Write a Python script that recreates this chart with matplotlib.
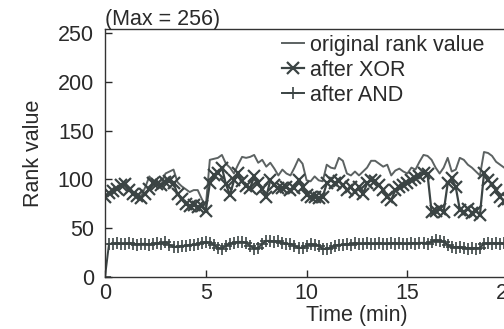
import matplotlib
matplotlib.use('Agg')
import matplotlib.pyplot as plt
import numpy as np

# sampling every 0.2 min
time_min = np.round(np.arange(0, 20.01, 0.2), 1)

original_rank = [
    84, 86, 88, 91, 94, 96, 92, 87, 85, 83,
    92, 103, 98, 97, 95, 106, 108, 110, 97, 93,
    90, 87, 89, 89, 80, 72, 120, 121, 122, 125,
    116, 112, 106, 115, 123, 122, 123, 125, 117, 120,
    113, 117, 111, 104, 110, 106, 104, 112, 121, 116,
    99, 98, 103, 99, 98, 115, 112, 111, 122, 119,
    106, 104, 108, 104, 108, 112, 119, 119, 116, 113,
    115, 104, 109, 111, 108, 106, 112, 110, 118, 125,
    124, 120, 112, 106, 112, 122, 108, 110, 122, 120,
    115, 112, 108, 104, 128, 127, 124, 118, 115, 112,
    110]

after_xor = [
    82, 86, 88, 90, 94, 95, 89, 85, 83, 81,
    85, 90, 96, 95, 94, 97, 98, 96, 85, 80,
    75, 73, 74, 72, 73, 68, 96, 104, 106, 112,
    95, 84, 99, 106, 98, 93, 91, 103, 96, 90,
    82, 99, 94, 91, 91, 92, 89, 91, 99, 92,
    84, 82, 82, 81, 82, 96, 99, 96, 98, 94,
    89, 92, 87, 92, 85, 96, 99, 98, 94, 89,
    82, 79, 89, 92, 94, 96, 99, 101, 103, 106,
    105, 67, 68, 70, 67, 96, 101, 92, 69, 67,
    70, 66, 68, 64, 106, 99, 95, 89, 82, 78,
    80]

after_and = [
    0, 34, 34, 35, 34, 34, 35, 34, 33, 34,
    34, 33, 34, 35, 34, 36, 33, 31, 31, 32,
    32, 33, 33, 34, 35, 36, 35, 33, 30, 29,
    32, 34, 35, 36, 36, 35, 32, 29, 30, 34,
    37, 37, 36, 37, 35, 34, 34, 32, 30, 30,
    32, 34, 33, 32, 29, 29, 30, 32, 33, 33,
    34, 33, 35, 34, 34, 35, 34, 34, 35, 34,
    34, 35, 34, 35, 34, 34, 35, 34, 35, 35,
    34, 36, 38, 37, 36, 33, 31, 30, 31, 30,
    29, 30, 29, 30, 34, 35, 34, 35, 34, 35,
    34]

x_ticks = [0, 5, 10, 15, 20, 25]
y_ticks = [0, 50, 100, 150, 200, 250]

plt.rcParams['font.family'] = ['Liberation Sans', 'DejaVu Sans']
FS = 15.5
TXT = '#2a2a2a'

fig = plt.figure(figsize=(5.04, 3.29), dpi=100)
ax = fig.add_axes([0.2083, 0.158, 1.0, 0.754])

ax.plot(time_min, original_rank, color='#5c6262', lw=1.4, label='original rank value')
ax.plot(time_min, after_xor, color='#3b4444', lw=1.6, marker='x', ms=8.5, mew=1.6,
        label='after XOR')
ax.plot(time_min, after_and, color='#3b4444', lw=1.4, marker='+', ms=8, mew=1.2,
        label='after AND')

ax.set_xlim(0, 25)
ax.set_ylim(0, 254)
ax.set_xticks(x_ticks)
ax.set_yticks(y_ticks)
ax.tick_params(direction='in', length=5, width=1, labelsize=FS, colors=TXT)
ax.tick_params(axis='x', pad=4)
ax.tick_params(axis='y', pad=8)
for sp in ax.spines.values():
    sp.set_color('#333333')
    sp.set_linewidth(1.0)

ax.set_xlabel('Time (min)', fontsize=FS, color=TXT, labelpad=1)
ax.set_ylabel('Rank value', fontsize=FS, color=TXT, labelpad=10)

fig.text(105 / 504, 1 - 25 / 329, '(Max = 256)', fontsize=FS, color=TXT,
         ha='left', va='baseline')

ax.legend(loc='upper left', bbox_to_anchor=(282 / 504, 1 - 35 / 329),
          bbox_transform=fig.transFigure, frameon=False, fontsize=FS,
          handlelength=1.0, handletextpad=0.3, labelspacing=0.18,
          borderpad=0, borderaxespad=0, labelcolor=TXT)

fig.savefig('out.png', dpi=100)
